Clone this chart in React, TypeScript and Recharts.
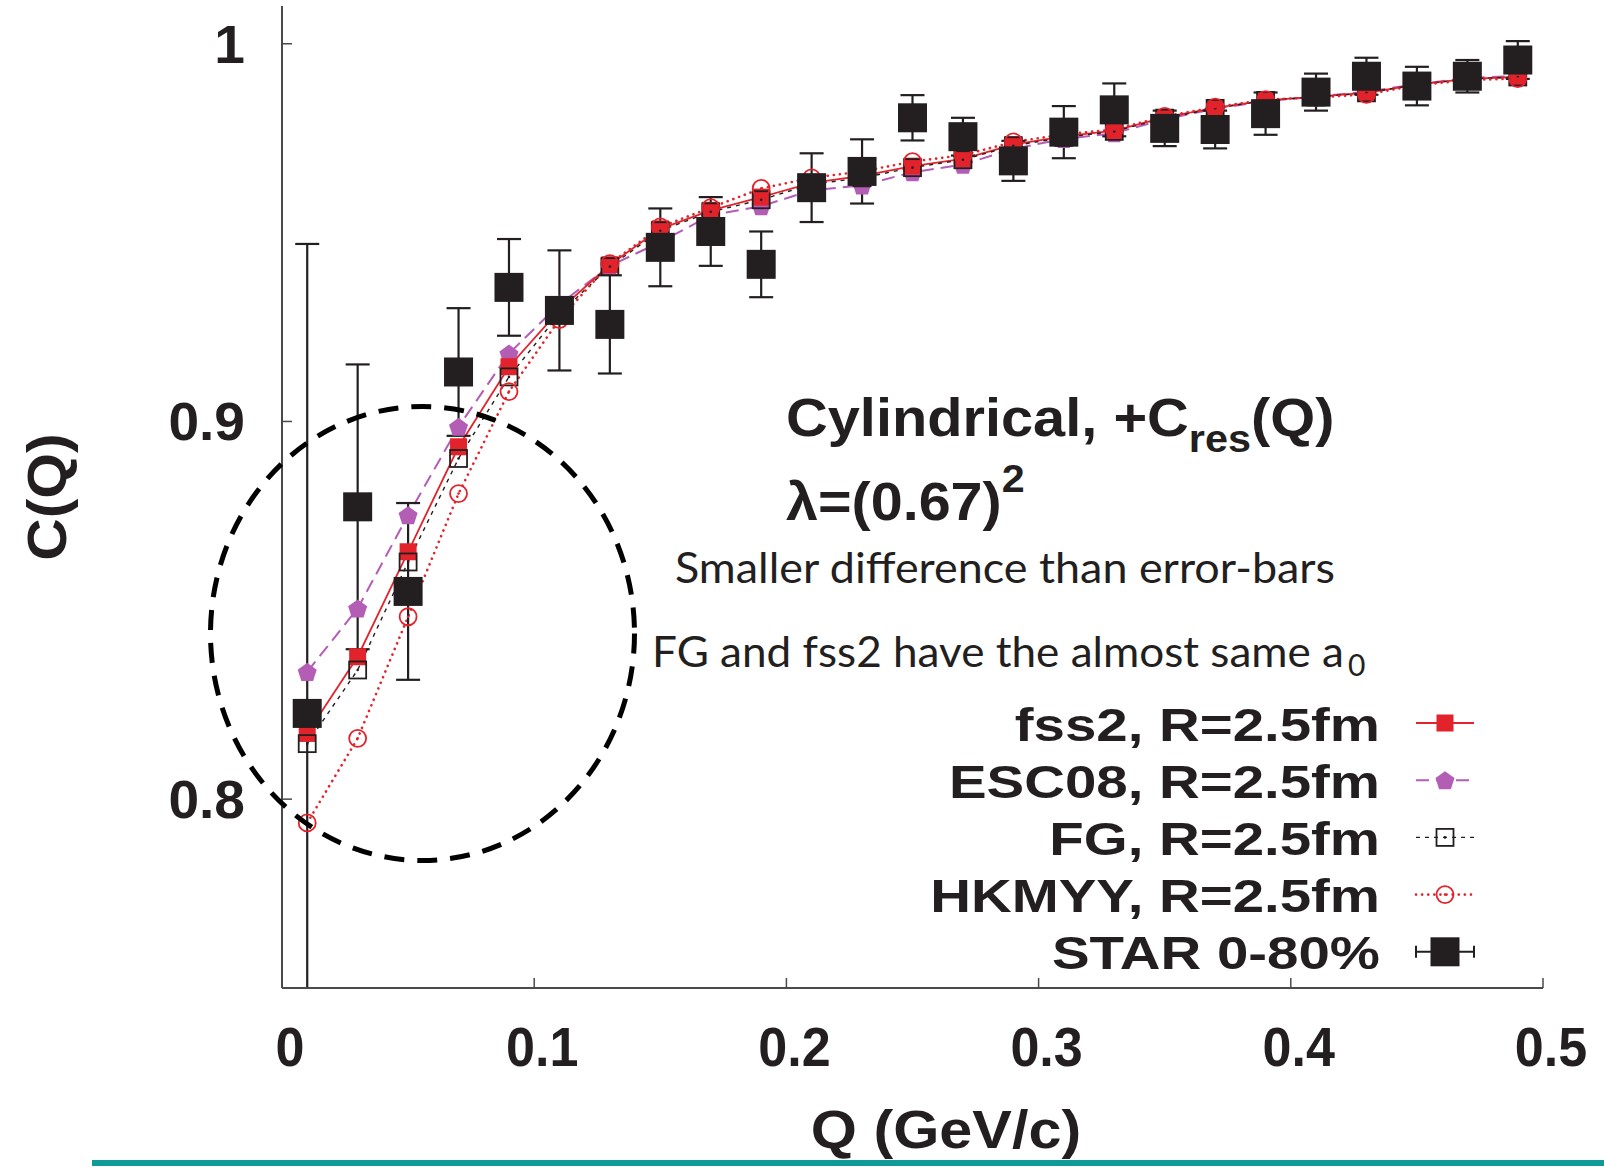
import { ComposedChart, Line, ErrorBar, XAxis, YAxis, Legend } from 'recharts';

// Q bins (GeV/c)
const Q = [
  0.01, 0.03, 0.05, 0.07, 0.09, 0.11, 0.13, 0.15, 0.17, 0.19, 0.21, 0.23, 0.25,
  0.27, 0.29, 0.31, 0.33, 0.35, 0.37, 0.39, 0.41, 0.43, 0.45, 0.47, 0.49,
];

// STAR 0-80% data and its error
const STAR = [
  0.8227, 0.8774, 0.855, 0.9131, 0.9355, 0.9294, 0.9257, 0.9461, 0.9503, 0.9416, 0.9619, 0.9662, 0.9804,
  0.9754, 0.969, 0.9766, 0.9825, 0.9776, 0.9773, 0.9815, 0.9872, 0.9914, 0.9888, 0.9914, 0.9957,
];
const STAR_ERR = [
  0.1243, 0.0377, 0.0234, 0.0169, 0.0128, 0.0159, 0.013, 0.0103, 0.0091, 0.0087, 0.0091, 0.0085, 0.006,
  0.005, 0.0053, 0.0069, 0.007, 0.0047, 0.005, 0.0056, 0.0049, 0.0049, 0.0051, 0.0043, 0.005,
];

// model curves, R = 2.5 fm
const FSS2 = [
  0.8174, 0.8377, 0.8655, 0.8933, 0.9145, 0.9295, 0.9415, 0.951, 0.9559, 0.9594, 0.9632, 0.965, 0.9676,
  0.9695, 0.9733, 0.9755, 0.977, 0.9805, 0.983, 0.985, 0.986, 0.987, 0.9892, 0.9907, 0.9912,
];
const ESC08 = [
  0.8337, 0.8505, 0.8752, 0.8986, 0.918, 0.931, 0.9412, 0.9475, 0.9546, 0.957, 0.9612, 0.9625, 0.966,
  0.968, 0.9722, 0.9748, 0.9763, 0.98, 0.9828, 0.9848, 0.986, 0.9873, 0.9893, 0.9909, 0.9915,
];
const FG = [
  0.8147, 0.8342, 0.8628, 0.8902, 0.9118, 0.9285, 0.941, 0.9505, 0.9555, 0.9587, 0.9628, 0.9645, 0.9672,
  0.9693, 0.973, 0.9752, 0.9768, 0.9803, 0.9829, 0.985, 0.9859, 0.987, 0.9892, 0.9907, 0.9912,
];
const HKMYY = [
  0.7937, 0.8161, 0.8483, 0.8809, 0.9079, 0.927, 0.9418, 0.9515, 0.9566, 0.9617, 0.9645, 0.9662, 0.9688,
  0.9705, 0.974, 0.976, 0.9773, 0.9808, 0.9832, 0.9852, 0.9858, 0.9866, 0.989, 0.9904, 0.9908,
];

const X_TICKS = [0, 0.1, 0.2, 0.3, 0.4, 0.5];
const X_TICK_LABELS = ['0', '0.1', '0.2', '0.3', '0.4', '0.5'];
const Y_TICKS = [0.8, 0.9, 1];
const Y_TICK_LABELS = ['0.8', '0.9', '1'];

const NAMES = ['fss2, R=2.5fm', 'ESC08, R=2.5fm', 'FG, R=2.5fm', 'HKMYY, R=2.5fm', 'STAR 0-80%'];

const data = Q.map((q, i) => ({
  q,
  star: STAR[i],
  starErr: STAR_ERR[i],
  fss2: FSS2[i],
  esc08: ESC08[i],
  fg: FG[i],
  hkmyy: HKMYY[i],
}));

const RED = '#e3232b';
const PURPLE = '#b35db5';
const INK = '#231f20';
const AXIS = '#4a4a4a';
const TEAL = '#0e9a97';
const FONT = "'Liberation Sans', Arial, sans-serif";
const BODY_FONT = "Lato, 'Open Sans', sans-serif";

function pentagon(cx: number, cy: number, r: number) {
  return Array.from({ length: 5 }, (_, k) => {
    const a = ((-90 + 72 * k) * Math.PI) / 180;
    return `${cx + r * Math.cos(a)},${cy + r * Math.sin(a)}`;
  }).join(' ');
}

function marker(kind: string, cx: number, cy: number, key?: string) {
  switch (kind) {
    case 'fss2':
      return <rect key={key} x={cx - 8.5} y={cy - 8.5} width={17} height={17} fill={RED} />;
    case 'esc08':
      return <polygon key={key} points={pentagon(cx, cy + 1, 10)} fill={PURPLE} />;
    case 'fg':
      return (
        <g key={key}>
          <rect x={cx - 8.5} y={cy - 8.5} width={17} height={17} fill="none" stroke={INK} strokeWidth={1.8} />
          <circle cx={cx} cy={cy} r={1.3} fill={INK} />
        </g>
      );
    case 'hkmyy':
      return (
        <g key={key}>
          <circle cx={cx} cy={cy} r={8.5} fill="none" stroke={RED} strokeWidth={1.8} />
          <circle cx={cx} cy={cy} r={1.3} fill={RED} />
        </g>
      );
    default:
      return <rect key={key} x={cx - 14.5} y={cy - 14.5} width={29} height={29} fill={INK} />;
  }
}

const STYLE: Record<string, { stroke: string; dash?: string; width: number; cap?: 'round' | 'butt' }> = {
  fss2: { stroke: RED, width: 1.8 },
  esc08: { stroke: PURPLE, dash: '13 7', width: 2 },
  fg: { stroke: INK, dash: '4 5', width: 1.4 },
  hkmyy: { stroke: RED, dash: '0.1 6', width: 2.6, cap: 'round' },
};

function XTickBottom(p: any) {
  const { x, y, payload } = p;
  const label = X_TICK_LABELS[X_TICKS.indexOf(payload.value)];
  return (
    <g>
      <line x1={x} x2={x} y1={y} y2={y - 10} stroke={AXIS} strokeWidth={1.5} />
      <text
        transform={`translate(${x + 8},${y + 78}) scale(0.93,1)`}
        textAnchor="middle"
        fontFamily={FONT}
        fontWeight="bold"
        fontSize={56}
        fill={INK}
      >
        {label}
      </text>
    </g>
  );
}

function XTickTop(p: any) {
  const { x, y } = p;
  return <line x1={x} x2={x} y1={y} y2={y + 10} stroke={AXIS} strokeWidth={1.5} />;
}

function YTickLeft(p: any) {
  const { x, y, payload } = p;
  const label = Y_TICK_LABELS[Y_TICKS.indexOf(payload.value)];
  return (
    <g>
      <line x1={x} x2={x + 10} y1={y} y2={y} stroke={AXIS} strokeWidth={1.5} />
      <text
        transform={`translate(${x - 37},${y + 19}) scale(1.04,1)`}
        textAnchor="end"
        fontFamily={FONT}
        fontWeight="bold"
        fontSize={53}
        fill={INK}
      >
        {label}
      </text>
    </g>
  );
}

function YTickRight(p: any) {
  const { x, y } = p;
  return <line x1={x} x2={x - 10} y1={y} y2={y} stroke={AXIS} strokeWidth={1.5} />;
}

const KINDS = ['fss2', 'esc08', 'fg', 'hkmyy', 'star'];

function LegendBox() {
  return (
    <svg width={620} height={300}>
      {KINDS.map((k, i) => {
        const cy = 33 + 57.2 * i;
        const s = STYLE[k];
        return (
          <g key={k}>
            <text
              transform={`translate(480,${51 + 57 * i}) scale(1.2,1)`}
              textAnchor="end"
              fontFamily={FONT}
              fontWeight="bold"
              fontSize={47}
              fill={INK}
            >
              {NAMES[i]}
            </text>
            {s ? (
              <line
                x1={516}
                x2={574}
                y1={cy}
                y2={cy}
                stroke={s.stroke}
                strokeWidth={s.width}
                strokeDasharray={s.dash}
                strokeLinecap={s.cap ?? 'butt'}
              />
            ) : (
              <g stroke={INK} strokeWidth={2}>
                <line x1={516} x2={574} y1={cy} y2={cy} />
                <line x1={516} x2={516} y1={cy - 6} y2={cy + 6} />
                <line x1={574} x2={574} y1={cy - 6} y2={cy + 6} />
              </g>
            )}
            {marker(k, 545, cy)}
          </g>
        );
      })}
    </svg>
  );
}

export default function App() {
  return (
    <div style={{ position: 'absolute', left: 0, top: 0, width: 1604, height: 1168, background: '#fff' }}>
      {/* keep the long first error bar inside the frame */}
      <style>{'.recharts-errorBar { clip-path: url(#plotClip); }'}</style>
      <ComposedChart width={1604} height={1168} data={data} margin={{ top: 6, right: 61, left: 0, bottom: 0 }}>
        <XAxis
          dataKey="q"
          type="number"
          domain={[0, 0.5]}
          ticks={X_TICKS}
          interval={0}
          height={180}
          tickSize={0}
          tickMargin={0}
          tickLine={false}
          tick={<XTickBottom />}
          axisLine={{ stroke: AXIS, strokeWidth: 2 }}
          allowDataOverflow
        />
        <XAxis
          xAxisId="top"
          orientation="top"
          type="number"
          domain={[0, 0.5]}
          ticks={X_TICKS}
          interval={0}
          height={0}
          tickSize={0}
          tickMargin={0}
          tickLine={false}
          tick={<XTickTop />}
          axisLine={{ stroke: AXIS, strokeWidth: 2 }}
          allowDataOverflow
        />
        <YAxis
          type="number"
          domain={[0.75, 1.01]}
          ticks={Y_TICKS}
          interval={0}
          width={282}
          tickSize={0}
          tickMargin={0}
          tickLine={false}
          tick={<YTickLeft />}
          axisLine={{ stroke: AXIS, strokeWidth: 2 }}
          allowDataOverflow
        />
        <YAxis
          yAxisId="right"
          orientation="right"
          type="number"
          domain={[0.75, 1.01]}
          ticks={Y_TICKS}
          interval={0}
          width={0}
          tickSize={0}
          tickMargin={0}
          tickLine={false}
          tick={<YTickRight />}
          axisLine={{ stroke: AXIS, strokeWidth: 2 }}
          allowDataOverflow
        />
        <Legend
          layout="horizontal"
          verticalAlign="middle"
          align="center"
          content={() => <LegendBox />}
          wrapperStyle={{ left: 900, top: 690, width: 620, height: 300 }}
        />
        {['esc08', 'fss2', 'fg', 'hkmyy'].map((k) => (
          <Line
            key={k}
            dataKey={k}
            name={NAMES[KINDS.indexOf(k)]}
            type="linear"
            stroke={STYLE[k].stroke}
            strokeWidth={STYLE[k].width}
            strokeDasharray={STYLE[k].dash}
            strokeLinecap={STYLE[k].cap ?? 'butt'}
            dot={(p: any) => marker(k, p.cx, p.cy, `${k}-${p.index}`)}
            activeDot={false}
            isAnimationActive={false}
          />
        ))}
        {/* STAR points: no connecting line, drawn last so the boxes sit on top */}
        <Line
          dataKey="star"
          name={NAMES[4]}
          type="linear"
          stroke="none"
          dot={(p: any) => marker('star', p.cx, p.cy, `star-${p.index}`)}
          activeDot={false}
          isAnimationActive={false}
        >
          <ErrorBar dataKey="starErr" direction="y" width={12} stroke={INK} strokeWidth={2.2} />
        </Line>
      </ComposedChart>

      <svg
        width={1604}
        height={1168}
        style={{ position: 'absolute', left: 0, top: 0, pointerEvents: 'none' }}
        fontFamily={FONT}
        fill={INK}
      >
        <defs>
          <clipPath id="plotClip" clipPathUnits="userSpaceOnUse">
            <rect x={270} y={0} width={1290} height={988} />
          </clipPath>
        </defs>

        <ellipse cx={422.5} cy={633.5} rx={212} ry={227} fill="none" stroke="#000" strokeWidth={5} strokeDasharray="20 13" />

        <text transform="translate(786,436) scale(1.09,1)" fontSize={53} fontWeight="bold">
          Cylindrical, +C
          <tspan fontSize={38} dy={16}>res</tspan>
          <tspan dy={-16}>(Q)</tspan>
        </text>
        <text transform="translate(786,520) scale(1.085,1)" fontSize={53} fontWeight="bold">
          λ=(0.67)
          <tspan fontSize={38} dy={-28}>2</tspan>
        </text>
        <text x={675} y={583} fontFamily={BODY_FONT} fontSize={43} textLength={660} lengthAdjust="spacingAndGlyphs">
          Smaller difference than error-bars
        </text>
        <text x={652} y={667} fontFamily={BODY_FONT} fontSize={43} textLength={692} lengthAdjust="spacingAndGlyphs">
          FG and fss2 have the almost same a
        </text>
        <text x={1348} y={676} fontFamily={BODY_FONT} fontSize={30}>
          0
        </text>

        <text transform="translate(66,497) rotate(-90) scale(1.05,1)" textAnchor="middle" fontSize={56} fontWeight="bold">
          C(Q)
        </text>
        <text transform="translate(946,1148) scale(1.12,1)" textAnchor="middle" fontSize={53} fontWeight="bold">
          Q (GeV/c)
        </text>

        <rect x={92} y={1160} width={1512} height={6} fill={TEAL} />
      </svg>
    </div>
  );
}
